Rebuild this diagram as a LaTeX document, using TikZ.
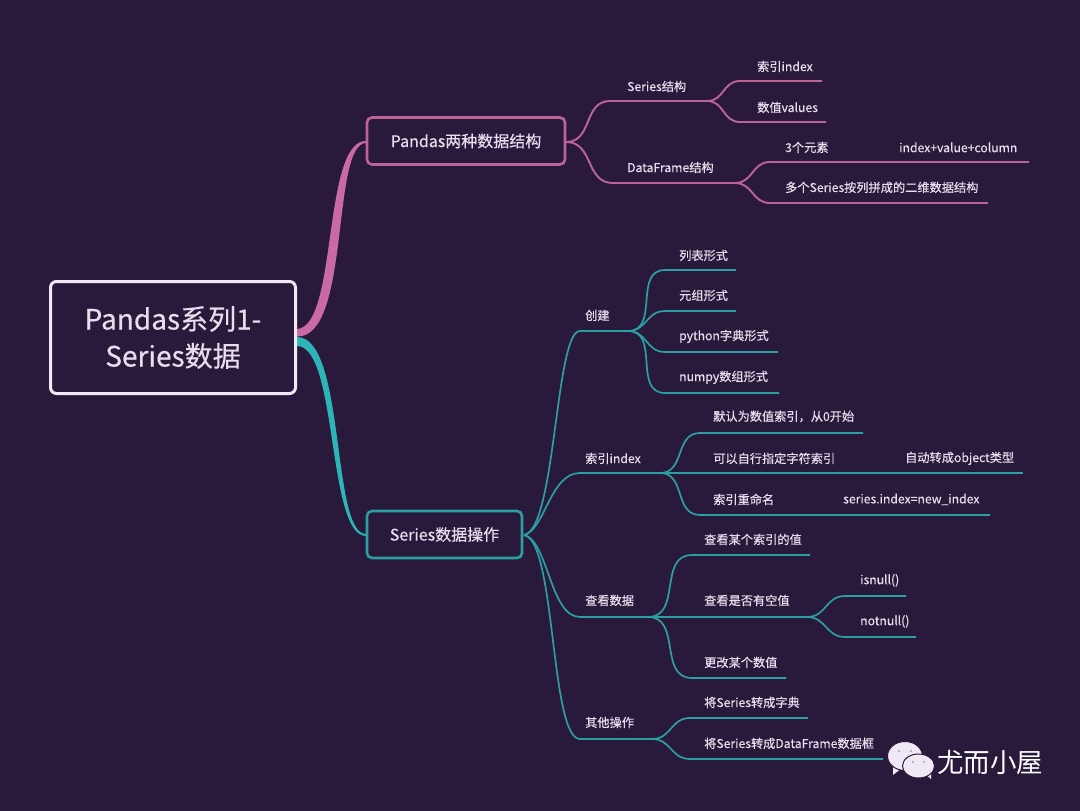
\documentclass[tikz,border=0pt]{standalone}
\usepackage{fontspec}
\setmainfont[FakeBold=0.35]{Noto Sans CJK SC}
\newfontfamily\brandfont{Noto Sans CJK SC}
\definecolor{bgpurple}{HTML}{291A3C}
\definecolor{pinkline}{HTML}{BC6496}
\definecolor{pinkthick}{HTML}{C96BA2}
\definecolor{tealline}{HTML}{2C9FA3}
\definecolor{tealthick}{HTML}{2DB4B6}
\definecolor{labeltext}{HTML}{E6DEEC}
\definecolor{rootline}{HTML}{F1E8F6}
\tikzset{
    rootbox/.style={draw=rootline, line width=3pt, rounded corners=6pt, fill=bgpurple, text=labeltext,
        minimum width=245pt, minimum height=112pt, align=center, inner sep=0pt,
        font=\fontsize{28}{37}\selectfont},
    mainbox/.style={line width=2.6pt, rounded corners=5pt, fill=bgpurple, text=labeltext,
        minimum height=47pt, inner sep=0pt, font=\fontsize{16}{20}\selectfont},
    leaf/.style={anchor=west, inner sep=0pt, yshift=-0.4pt, text=labeltext, font=\fontsize{12.2}{14}\selectfont},
    pinkbranch/.style={draw=pinkline, line width=1.9pt},
    tealbranch/.style={draw=tealline, line width=1.7pt},
    curve/.style={out=0, in=180, looseness=1.15},
    bubble/.style={fill=rootline, draw=bgpurple, line width=1pt},
    eye/.style={fill=gray!70}
}
\begin{document}
\begin{tikzpicture}[x=1pt,y=-1pt]
    \fill[bgpurple] (0,0) rectangle (1080,811);
    \useasboundingbox (0,0) rectangle (1080,811);

    % line ends
    \coordinate (rootP) at (297,329);
    \coordinate (rootT) at (297,337);
    \coordinate (pandasHub) at (566,142);
    \coordinate (opsHub) at (524,535);

    \coordinate (seriesL) at (610,101);  \coordinate (seriesR) at (707,101);
    \coordinate (frameL) at (613,183);   \coordinate (frameR) at (735,183);
    \coordinate (sIndexL) at (740,81);   \coordinate (sIndexR) at (822,81);
    \coordinate (sValueL) at (740,122);  \coordinate (sValueR) at (826,122);
    \coordinate (elemL) at (770,162);    \coordinate (elemR) at (1029,162);
    \coordinate (manyL) at (770,203);    \coordinate (manyR) at (988,203);

    \coordinate (createL) at (580,331);  \coordinate (createR) at (628,331);
    \coordinate (indexL) at (580,473);   \coordinate (indexR) at (660,473);
    \coordinate (viewL) at (580,617);    \coordinate (viewR) at (648,617);
    \coordinate (otherL) at (580,739);   \coordinate (otherR) at (652,739);

    \coordinate (listL) at (665,270);    \coordinate (listR) at (736,270);
    \coordinate (tupleL) at (665,311);   \coordinate (tupleR) at (736,311);
    \coordinate (dictL) at (665,352);    \coordinate (dictR) at (778,352);
    \coordinate (numpyL) at (665,393);   \coordinate (numpyR) at (779,393);

    \coordinate (defaultL) at (700,433); \coordinate (defaultR) at (863,433);
    \coordinate (customR) at (1023,473);
    \coordinate (renameL) at (700,515);  \coordinate (renameR) at (990,515);

    \coordinate (someL) at (692,555);    \coordinate (someR) at (810,555);
    \coordinate (nullR) at (807,617);
    \coordinate (changeL) at (692,678);  \coordinate (changeR) at (786,678);
    \coordinate (isnullL) at (845,596);  \coordinate (isnullR) at (906,596);
    \coordinate (notnullL) at (845,637); \coordinate (notnullR) at (916,637);

    \coordinate (dictOutL) at (690,718); \coordinate (dictOutR) at (808,718);
    \coordinate (frameOutL) at (690,759); \coordinate (frameOutR) at (883,759);

    % thick branches out of the root
    \fill[pinkthick] (rootP) .. controls (338,327) and (322,141) .. (366,141)
        -- (366,143) .. controls (331,143) and (351,338) .. (297,336.5) -- cycle;
    \fill[tealthick] (rootT) .. controls (346,337) and (331,534) .. (366,534)
        -- (366,536) .. controls (327,536) and (338,346) .. (297,346) -- cycle;

    % pink side
    \draw[pinkbranch] (pandasHub) to[curve] (seriesL) -- (seriesR);
    \draw[pinkbranch] (pandasHub) to[curve] (frameL) -- (frameR);
    \draw[pinkbranch] (seriesR) to[curve] (sIndexL) -- (sIndexR);
    \draw[pinkbranch] (seriesR) to[curve] (sValueL) -- (sValueR);
    \draw[pinkbranch] (frameR) to[curve] (elemL) -- (elemR);
    \draw[pinkbranch] (frameR) to[curve] (manyL) -- (manyR);

    % teal side
    \draw[tealbranch] (opsHub) .. controls (556,530) and (555,331) .. (createL) -- (createR);
    \draw[tealbranch] (opsHub) .. controls (545,530) and (550,473) .. (indexL) -- (indexR);
    \draw[tealbranch] (opsHub) .. controls (548,540) and (550,617) .. (viewL) -- (viewR);
    \draw[tealbranch] (opsHub) .. controls (556,540) and (550,739) .. (otherL) -- (otherR);

    \draw[tealbranch] (createR) to[curve] (listL) -- (listR);
    \draw[tealbranch] (createR) to[curve] (tupleL) -- (tupleR);
    \draw[tealbranch] (createR) to[curve] (dictL) -- (dictR);
    \draw[tealbranch] (createR) to[curve] (numpyL) -- (numpyR);

    \draw[tealbranch] (indexR) to[curve] (defaultL) -- (defaultR);
    \draw[tealbranch] (indexR) -- (customR);
    \draw[tealbranch] (indexR) to[curve] (renameL) -- (renameR);

    \draw[tealbranch] (viewR) to[curve] (someL) -- (someR);
    \draw[tealbranch] (viewR) -- (nullR);
    \draw[tealbranch] (viewR) to[curve] (changeL) -- (changeR);
    \draw[tealbranch] (nullR) to[curve] (isnullL) -- (isnullR);
    \draw[tealbranch] (nullR) to[curve] (notnullL) -- (notnullR);

    \draw[tealbranch] (otherR) to[curve] (dictOutL) -- (dictOutR);
    \draw[tealbranch] (otherR) to[curve] (frameOutL) -- (frameOutR);

    % boxes
    \node[rootbox] (root) at (173,337.5) {Pandas系列1-\\Series数据};
    \node[mainbox, draw=pinkline, minimum width=198pt] (pandas) at (466,141) {Pandas两种数据结构};
    \node[mainbox, draw=tealline, minimum width=155pt] (ops) at (444.5,534.5) {Series数据操作};

    % labels
    \node[leaf] (series) at (627,86) {Series结构};
    \node[leaf] (frame) at (627,167) {DataFrame结构};
    \node[leaf] (sIndex) at (757,66) {索引index};
    \node[leaf] (sValue) at (757,107) {数值values};
    \node[leaf] (elem) at (785,147) {3个元素};
    \node[leaf] (elemNote) at (899,147) {index+value+column};
    \node[leaf] (many) at (785,187) {多个Series按列拼成的二维数据结构};

    \node[leaf] (create) at (585,315) {创建};
    \node[leaf] (list) at (679,255) {列表形式};
    \node[leaf] (tuple) at (679,295) {元组形式};
    \node[leaf] (dict) at (679,336) {python字典形式};
    \node[leaf] (numpy) at (679,377) {numpy数组形式};

    \node[leaf] (index) at (585,458) {索引index};
    \node[leaf] (default) at (713,416) {默认为数值索引，从0开始};
    \node[leaf] (custom) at (713,458) {可以自行指定字符索引};
    \node[leaf] (customNote) at (905,458) {自动转成object类型};
    \node[leaf] (rename) at (713,499) {索引重命名};
    \node[leaf] (renameNote) at (843,499) {series.index=new\_index};

    \node[leaf] (view) at (585,600) {查看数据};
    \node[leaf] (some) at (704,539) {查看某个索引的值};
    \node[leaf] (null) at (704,600) {查看是否有空值};
    \node[leaf] (change) at (704,662) {更改某个数值};
    \node[leaf] (isnull) at (860,580) {isnull()};
    \node[leaf] (notnull) at (860,621) {notnull()};

    \node[leaf] (other) at (585,722) {其他操作};
    \node[leaf] (dictOut) at (704,702) {将Series转成字典};
    \node[leaf] (frameOut) at (704,743) {将Series转成DataFrame数据框};

    % watermark
    \fill[rootline] (893,766) -- (893,775) -- (902,768) -- cycle;
    \draw[bubble] (905,756) ellipse (17.5 and 14.5);
    \fill[eye] (899,751) circle (1.2);
    \fill[eye] (911,751) circle (1.2);
    \fill[rootline] (923,772) -- (931,779) -- (931,768) -- cycle;
    \draw[bubble] (918.5,766) ellipse (16 and 12);
    \fill[eye] (913,762) circle (1.1);
    \fill[eye] (924,762) circle (1.1);
    \node[anchor=west, inner sep=0pt, text=white, font=\brandfont\fontsize{26.5}{30}\selectfont] (brand) at (937,762) {尤而小屋};
\end{tikzpicture}
\end{document}
